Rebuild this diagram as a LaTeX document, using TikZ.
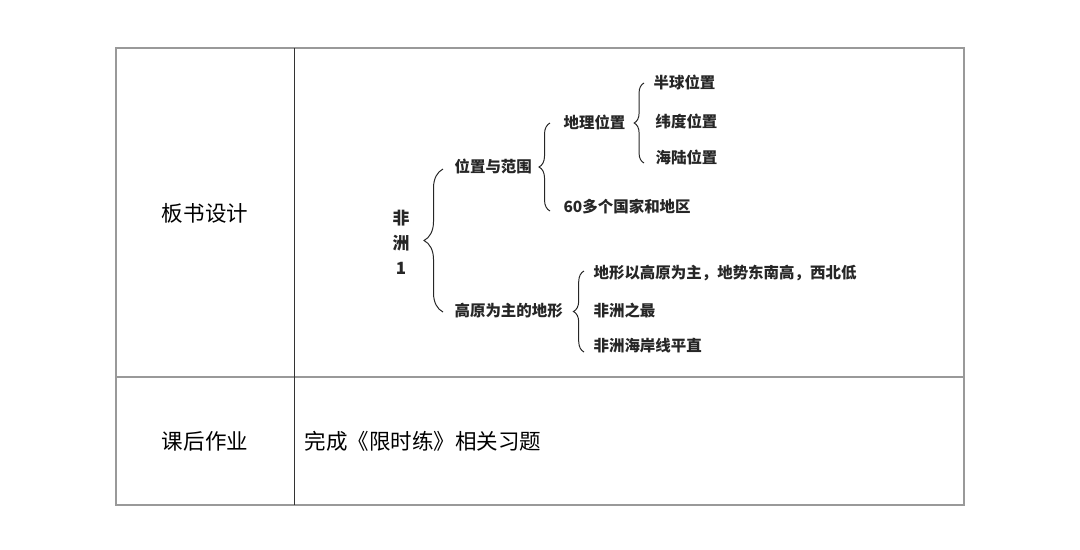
\documentclass[tikz,border=0pt]{standalone}
\usepackage{fontspec}
\usetikzlibrary{decorations.pathreplacing}
\newfontfamily\songti{Noto Sans CJK SC}
\newfontfamily\heiti{Noto Sans CJK SC}
% brace: x of the ends, top y, bottom y, amplitude
\newcommand\kuohao[4]{%
  \draw[kh=#4] (#1,#3) -- (#1,#2);}

\begin{document}
\begin{tikzpicture}[x=0.025cm,y=-0.025cm,line width=0.8pt,
  kuang/.style={draw=black!40,line width=0.8pt},
  biaoti/.style={inner sep=0,font=\songti\fontsize{15.3}{18}\selectfont},
  zhi/.style={inner sep=0,anchor=west,text=black!85,font=\heiti\bfseries\fontsize{11}{17.8}\selectfont},
  kh/.style={draw=black!85,line width=0.7pt,decorate,decoration={brace,amplitude=#1}}]
\useasboundingbox (0,0) rectangle (1080,549);
% table
\draw[kuang] (116,48) rectangle (964,505);
\draw[kuang] (116,377) -- (964,377);
\draw[black!80,line width=0.7pt] (294,48) -- (294,505);
\node[biaoti] (bsj) at (205,213) {板书设计};
\node[biaoti] (hzy) at (205,441) {课后作业};
\node[biaoti,anchor=west] (wc) at (304,441) {完成《限时练》相关习题};
% mind map
\node[zhi,anchor=center,align=center,font=\heiti\bfseries\fontsize{12}{17.8}\selectfont] (fz) at (401,242) {非\\洲\\1};
\node[zhi] (wz) at (454,166) {位置与范围};
\node[zhi] (gy) at (454,311) {高原为主的地形};
\node[zhi] (dl) at (563,122) {地理位置};
\node[zhi] (gj) at (563,207) {60多个国家和地区};
\node[zhi] (bq) at (653,82) {半球位置};
\node[zhi] (wd) at (655,121) {纬度位置};
\node[zhi] (hl) at (655,157) {海陆位置};
\node[zhi] (dx) at (593,273) {地形以高原为主，地势东南高，西北低};
\node[zhi] (zz) at (593,311) {非洲之最};
\node[zhi] (ha) at (593,346) {非洲海岸线平直};
\kuohao{443}{169}{312}{13.5pt}
\kuohao{550}{123}{211}{7.8pt}
\kuohao{644}{83}{163}{7pt}
\kuohao{584}{271}{352}{7.5pt}
\end{tikzpicture}
\end{document}
